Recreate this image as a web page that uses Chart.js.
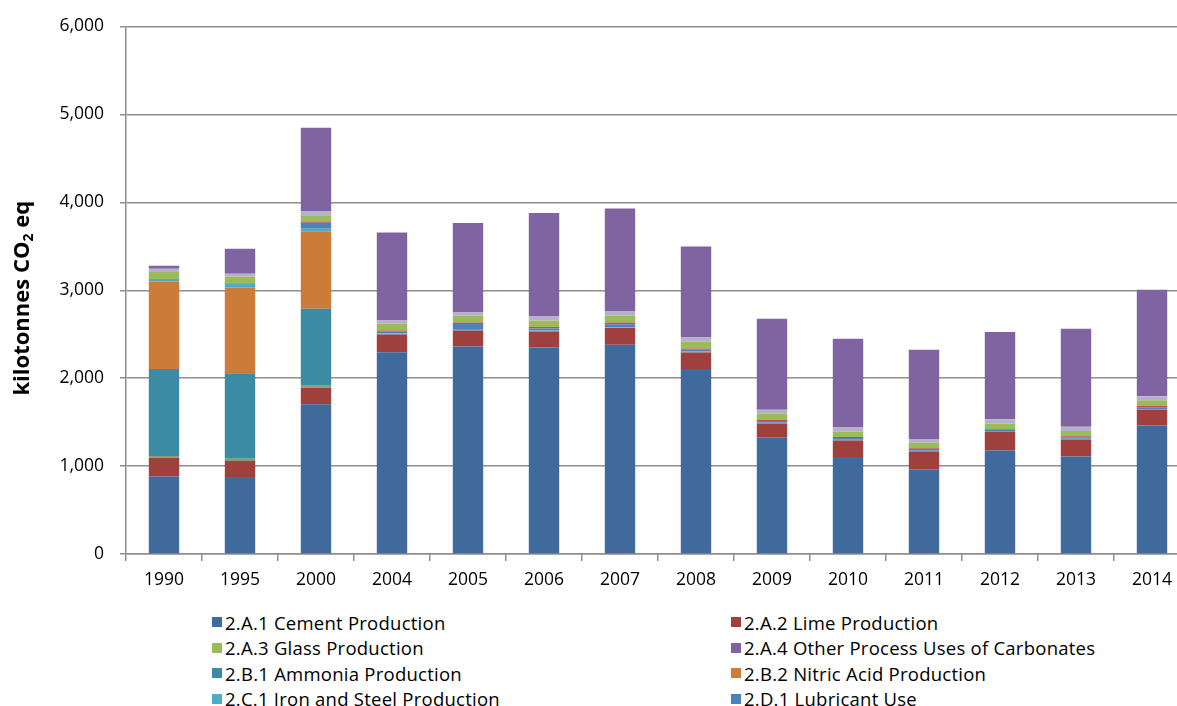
<!DOCTYPE html>
<html>
<head>
<meta charset="utf-8">
<script src="https://cdn.jsdelivr.net/npm/chart.js@4"></script>
<style>
  body { margin: 0; background: #fff; overflow: hidden; width: 1177px; height: 706px; position: relative; }
  #wrap { position: absolute; left: 0; top: 0; width: 1190px; height: 600px; }
  #legend { position: absolute; left: 212px; top: 612px; width: 960px; display: grid;
            grid-template-columns: 519px 440px; row-gap: 5px; font-family: "Open Sans", sans-serif;
            font-size: 18.5px; letter-spacing: 0.25px; color: #000; }
  #legend div { display: flex; align-items: center; height: 20.5px; white-space: nowrap; }
  #legend span.box { width: 10px; height: 10px; margin-right: 3px; display: inline-block; }
</style>
</head>
<body>
<div id="wrap"><canvas id="chart" width="1190" height="600"></canvas></div>
<div id="legend"></div>
<script>
const years = ["1990", "1995", "2000", "2004", "2005", "2006", "2007", "2008", "2009", "2010", "2011", "2012", "2013", "2014"];
const yTicks = [0, 1000, 2000, 3000, 4000, 5000, 6000];

// stacked from bottom to top, as in the picture
const cementData    = [882, 877, 1704, 2296, 2360, 2349, 2380, 2103, 1329, 1104, 964, 1176, 1108, 1461];
const limeData      = [214, 182, 186, 201, 182, 182, 190, 189, 155, 186, 201, 216, 193, 179];
const minorAData    = [20, 23, 23, 0, 0, 0, 0, 0, 0, 0, 0, 0, 0, 0];
const ammoniaData   = [987, 975, 877, 0, 0, 0, 0, 0, 0, 0, 0, 0, 0, 0];
const nitricData    = [997, 975, 880, 0, 0, 0, 0, 0, 0, 0, 0, 0, 0, 0];
const ironData      = [28, 39, 30, 10, 16, 10, 10, 10, 10, 10, 10, 8, 10, 10];
const lubricantData = [0, 0, 69, 20, 57, 25, 34, 20, 20, 20, 18, 14, 18, 20];
const minorBData    = [0, 7, 14, 15, 18, 15, 20, 16, 12, 12, 10, 9, 11, 15];
const glassData     = [79, 76, 69, 77, 76, 75, 79, 79, 71, 60, 61, 61, 60, 65];
const minorCData    = [38, 34, 45, 37, 37, 46, 46, 46, 43, 46, 45, 50, 46, 45];
const otherData     = [34, 285, 950, 1002, 1018, 1177, 1172, 1036, 1036, 1010, 1014, 990, 1116, 1211];

const series = [
    { label: "2.A.1 Cement Production", data: cementData, color: "#416A9C" },
    { label: "2.A.2 Lime Production", data: limeData, color: "#A0403E" },
    { label: "", data: minorAData, color: "#8E9E6A" },
    { label: "2.B.1 Ammonia Production", data: ammoniaData, color: "#3C8BA4" },
    { label: "2.B.2 Nitric Acid Production", data: nitricData, color: "#CC7B38" },
    { label: "2.C.1 Iron and Steel Production", data: ironData, color: "#4BACC6" },
    { label: "2.D.1 Lubricant Use", data: lubricantData, color: "#4F81BD" },
    { label: "", data: minorBData, color: "#C0504D" },
    { label: "2.A.3 Glass Production", data: glassData, color: "#9BBB59" },
    { label: "", data: minorCData, color: "#B8AFCC" },
    { label: "2.A.4 Other Process Uses of Carbonates", data: otherData, color: "#8064A2" }
];

const legendOrder = [
    "2.A.1 Cement Production", "2.A.2 Lime Production",
    "2.A.3 Glass Production", "2.A.4 Other Process Uses of Carbonates",
    "2.B.1 Ammonia Production", "2.B.2 Nitric Acid Production",
    "2.C.1 Iron and Steel Production", "2.D.1 Lubricant Use"
];

const FONT = "'Open Sans', sans-serif";
const GRID = "#8E8E8E";

// y title with subscript 2
const yTitle = {
    id: "yTitle",
    afterDraw(chart) {
        const ctx = chart.ctx;
        const area = chart.chartArea;
        ctx.save();
        ctx.translate(23, (area.top + area.bottom) / 2 + 8);
        ctx.rotate(-Math.PI / 2);
        ctx.fillStyle = "#000";
        ctx.textBaseline = "middle";
        const big = "bold 22px " + FONT;
        const small = "bold 14px " + FONT;
        const parts = [["kilotonnes CO", big, 0], ["2", small, 6], [" eq", big, 0]];
        let total = 0;
        parts.forEach(p => { ctx.font = p[1]; total += ctx.measureText(p[0]).width; });
        let x = -total / 2;
        parts.forEach(p => {
            ctx.font = p[1];
            ctx.textAlign = "left";
            ctx.fillText(p[0], x, p[2]);
            x += ctx.measureText(p[0]).width;
        });
        ctx.restore();
    }
};

new Chart(document.getElementById("chart"), {
    type: "bar",
    data: {
        labels: years,
        datasets: series.map(s => ({
            label: s.label,
            data: s.data,
            backgroundColor: s.color,
            borderWidth: 0,
            barPercentage: 0.4,
            categoryPercentage: 1.0
        }))
    },
    options: {
        responsive: false,
        animation: false,
        layout: { padding: { left: 0, right: 0, top: 20, bottom: 0 } },
        plugins: {
            legend: { display: false },
            tooltip: { enabled: false }
        },
        scales: {
            x: {
                stacked: true,
                grid: { drawOnChartArea: false, offset: true, color: GRID, lineWidth: 1.5, tickLength: 7 },
                border: { color: GRID, width: 1.5 },
                ticks: { color: "#000", font: { family: FONT, size: 17.5 }, padding: 9, maxRotation: 0 },
                afterFit(scale) { scale.height = 46; }
            },
            y: {
                stacked: true,
                min: 0,
                max: 6000,
                afterBuildTicks(scale) { scale.ticks = yTicks.map(v => ({ value: v })); },
                grid: { color: GRID, lineWidth: 1.5, tickLength: 6 },
                border: { color: GRID, width: 1.5 },
                ticks: {
                    color: "#000",
                    font: { family: FONT, size: 17.5 },
                    padding: 16,
                    callback: v => v.toLocaleString("en-US")
                },
                afterFit(scale) { scale.width = 126; }
            }
        }
    },
    plugins: [yTitle]
});

const legend = document.getElementById("legend");
legendOrder.forEach(name => {
    const s = series.find(x => x.label === name);
    const item = document.createElement("div");
    item.innerHTML = '<span class="box" style="background:' + s.color + '"></span>' + s.label;
    legend.appendChild(item);
});
</script>
</body>
</html>
